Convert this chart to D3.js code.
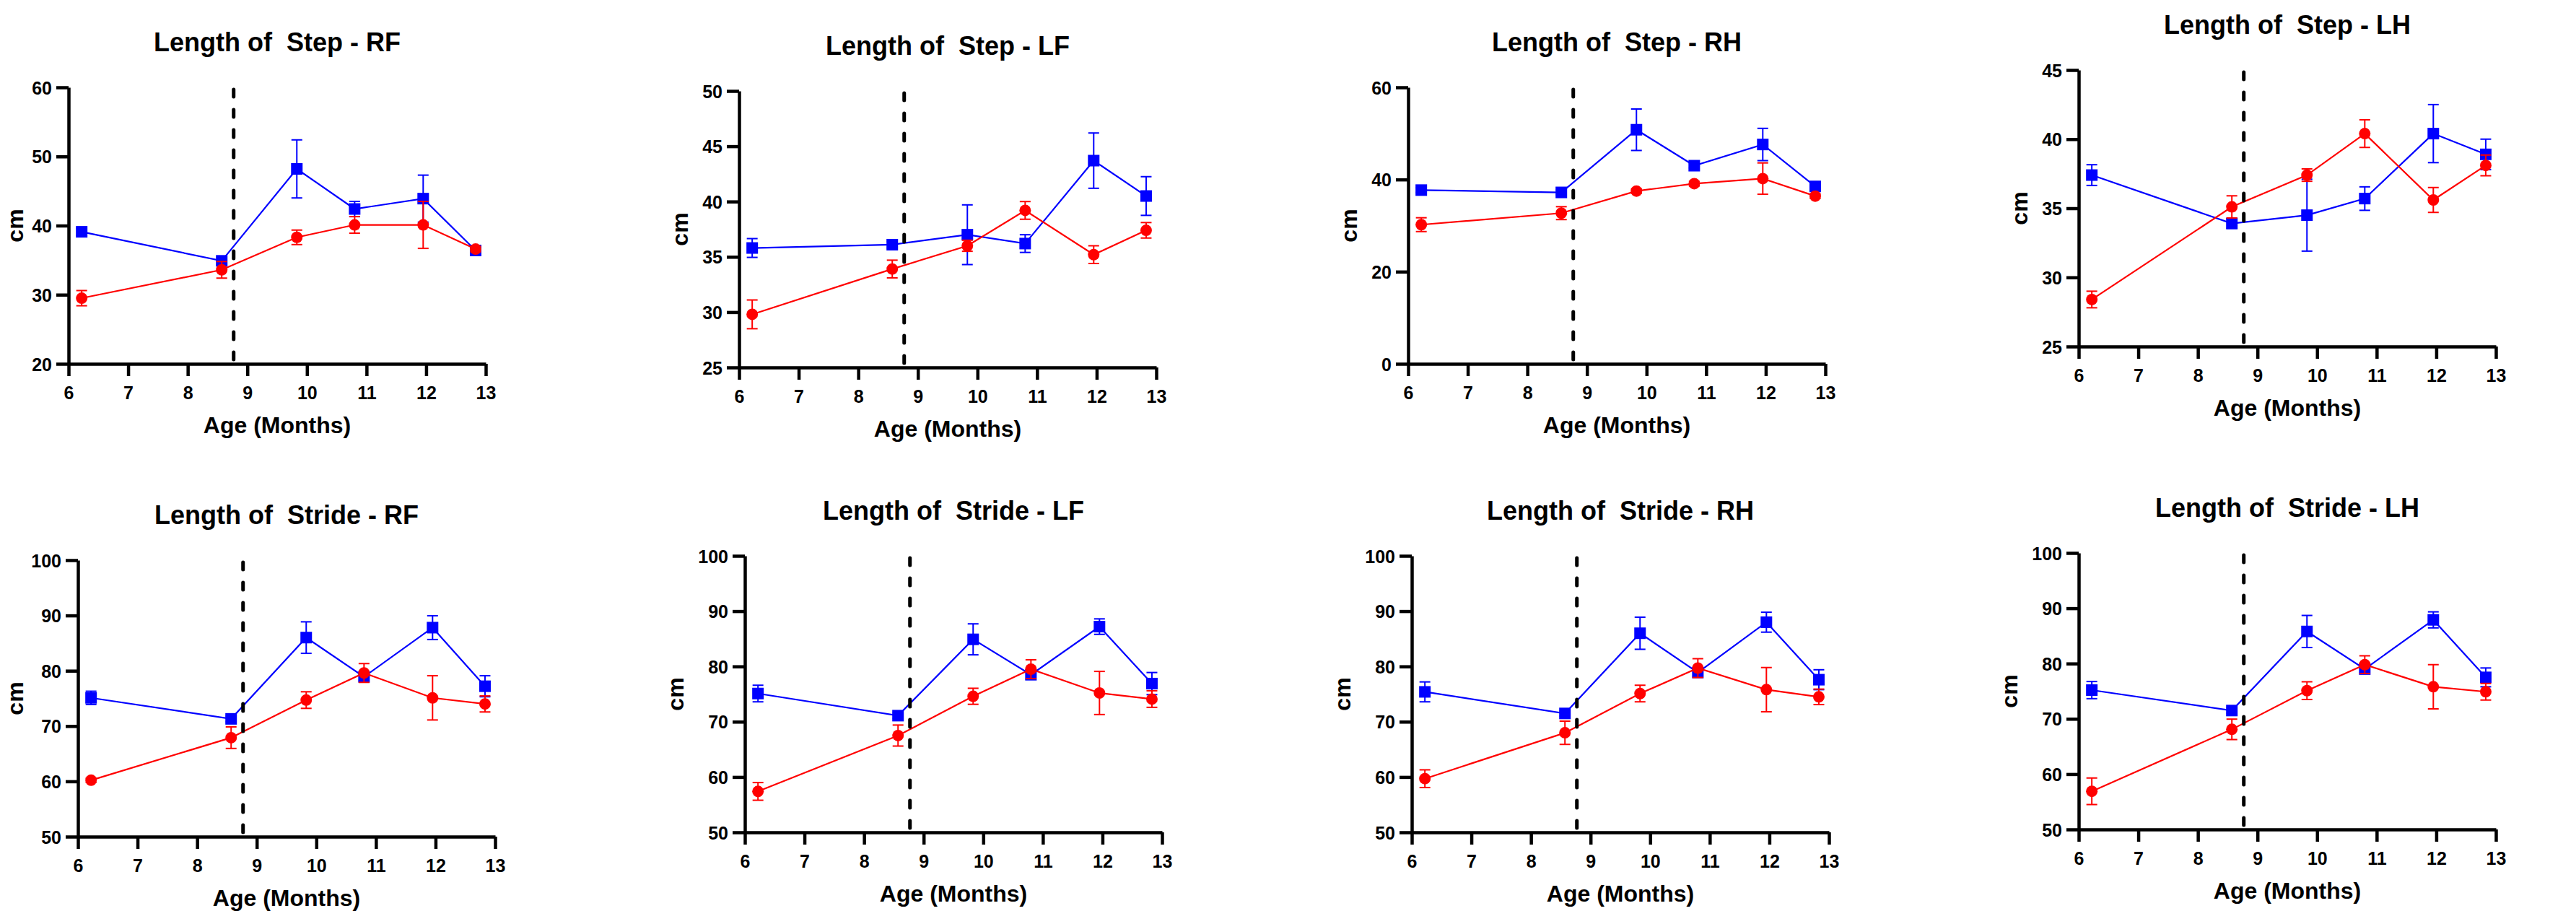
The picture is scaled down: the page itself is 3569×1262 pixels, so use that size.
<!DOCTYPE html>
<html>
<head>
<meta charset="utf-8">
<script src="https://cdn.jsdelivr.net/npm/d3@7"></script>
<style>
  body { margin: 0; background: #fff; }
  text { font-family: "Liberation Sans", Arial, sans-serif; font-weight: bold; fill: #000; }
</style>
</head>
<body>
<script>
// ages of the six recordings (months), same for every panel
var ages = [6.22, 8.57, 9.83, 10.8, 11.95, 12.83];
var cutAge = 8.77;
var xTicks = [6, 7, 8, 9, 10, 11, 12, 13];

var titles = ["Length of  Step - RF", "Length of  Step - LF", "Length of  Step - RH", "Length of  Step - LH",
              "Length of  Stride - RF", "Length of  Stride - LF", "Length of  Stride - RH", "Length of  Stride - LH"];

var yDomains = [[20, 60], [25, 50], [0, 60], [25, 45], [50, 100], [50, 100], [50, 100], [50, 100]];
var yTicks = [[20, 30, 40, 50, 60], [25, 30, 35, 40, 45, 50], [0, 20, 40, 60], [25, 30, 35, 40, 45],
              [50, 60, 70, 80, 90, 100], [50, 60, 70, 80, 90, 100], [50, 60, 70, 80, 90, 100], [50, 60, 70, 80, 90, 100]];

// blue squares (mean, error)
var blueMeans = [
  [39.1, 34.9, 48.2, 42.4, 43.9, 36.4],
  [35.8, 36.1, 37.0, 36.2, 43.7, 40.5],
  [37.7, 37.2, 50.8, 43.0, 47.6, 38.5],
  [37.4, 33.9, 34.5, 35.7, 40.4, 38.9],
  [75.1, 71.3, 86.0, 78.9, 87.8, 77.2],
  [75.1, 71.1, 84.9, 78.5, 87.2, 76.9],
  [75.4, 71.5, 86.0, 78.9, 88.0, 77.6],
  [75.2, 71.5, 85.8, 79.0, 87.9, 77.5]
];
var blueErr = [
  [0.5, 0.5, 4.2, 1.1, 3.4, 0.5],
  [0.85, 0.3, 2.7, 0.8, 2.5, 1.75],
  [0.5, 0.5, 4.5, 0.5, 3.5, 0.6],
  [0.75, 0.35, 2.6, 0.85, 2.1, 1.1],
  [1.2, 0.5, 2.85, 0.6, 2.15, 1.9],
  [1.5, 0.5, 2.8, 0.8, 1.4, 2.0],
  [1.8, 0.5, 2.9, 0.7, 1.8, 1.8],
  [1.55, 0.5, 2.9, 0.7, 1.45, 1.7]
];
// red circles (mean, error)
var redMeans = [
  [29.5, 33.6, 38.3, 40.1, 40.1, 36.6],
  [29.8, 33.9, 36.0, 39.2, 35.2, 37.4],
  [30.2, 32.7, 37.5, 39.1, 40.2, 36.4],
  [28.4, 35.1, 37.4, 40.4, 35.6, 38.1],
  [60.2, 67.9, 74.7, 79.6, 75.1, 74.0],
  [57.4, 67.5, 74.6, 79.5, 75.2, 74.1],
  [59.7, 68.0, 75.1, 79.7, 75.8, 74.5],
  [56.9, 68.1, 75.1, 79.8, 75.8, 74.9]
];
var redErr = [
  [1.1, 1.2, 1.05, 1.2, 3.4, 0.4],
  [1.3, 0.8, 0.5, 0.8, 0.8, 0.7],
  [1.5, 1.4, 0.5, 0.5, 3.4, 0.5],
  [0.6, 0.8, 0.45, 1.0, 0.9, 0.75],
  [0.4, 1.95, 1.5, 1.7, 4.0, 1.45],
  [1.6, 1.9, 1.45, 1.7, 3.9, 1.5],
  [1.6, 2.1, 1.5, 1.7, 4.0, 1.4],
  [2.4, 1.85, 1.6, 1.6, 4.0, 1.5]
];

// where each plot area sits on the page (left, top)
var panelPos = [[95, 121], [1024, 126], [1951, 121], [2880, 97],
                [108, 776], [1032, 770], [1956, 770], [2880, 766]];
var plotW = 578, plotH = 383;

var svg = d3.select("body").append("svg")
    .attr("width", 3569)
    .attr("height", 1262);

svg.append("rect").attr("width", 3569).attr("height", 1262).attr("fill", "#fff");

for (var i = 0; i < 8; i++) {
  drawPanel(i);
}

function drawPanel(i){
  var g = svg.append("g")
      .attr("transform", "translate(" + panelPos[i][0] + "," + panelPos[i][1] + ")");

  var x = d3.scaleLinear().domain([6, 13]).range([0, plotW]);
  var y = d3.scaleLinear().domain(yDomains[i]).range([plotH, 0]);

  // title
  g.append("text")
    .attr("x", plotW / 2)
    .attr("y", -50)
    .attr("text-anchor", "middle")
    .style("white-space", "pre")
    .style("font-size", "36px")
    .text(titles[i]);

  // axes
  var xAxis = g.append("g")
    .attr("transform", "translate(0," + plotH + ")")
    .call(d3.axisBottom(x).tickValues(xTicks).tickFormat(d3.format("d")).tickSize(17).tickSizeOuter(0));
  xAxis.selectAll("text").attr("y", 49).attr("dy", 0).style("font-size", "25px");

  var yAxis = g.append("g")
    .call(d3.axisLeft(y).tickValues(yTicks[i]).tickFormat(d3.format("d")).tickSize(17).tickSizeOuter(0));
  yAxis.selectAll("text").attr("x", -23).attr("dy", "0.36em").style("font-size", "25px");

  [xAxis, yAxis].forEach(function(a){
    a.select(".domain").attr("stroke", "#000").attr("stroke-width", 4.5);
    a.selectAll(".tick line").attr("stroke", "#000").attr("stroke-width", 4.5);
    a.selectAll("text").attr("fill", "#000").style("font-family", "'Liberation Sans', Arial, sans-serif").style("font-weight", "bold");
  });

  // y title sits left of the tick labels (kept inside the page edge)
  var labW = 0;
  yAxis.selectAll("text").each(function(){ labW = Math.max(labW, this.getComputedTextLength()); });
  var cmX = Math.max(-(labW + 43), 32 - panelPos[i][0]);
  g.append("text")
    .attr("transform", "translate(" + cmX + "," + (plotH / 2) + ") rotate(-90)")
    .attr("text-anchor", "middle")
    .style("font-size", "32px")
    .text("cm");

  g.append("text")
    .attr("x", plotW / 2)
    .attr("y", plotH + 96)
    .attr("text-anchor", "middle")
    .style("font-size", "32px")
    .text("Age (Months)");

  drawSeries(g, x, y, blueMeans[i], blueErr[i], "#0000ff", "square");
  drawSeries(g, x, y, redMeans[i], redErr[i], "#ff0000", "circle");

  // dashed cut line
  g.append("line")
    .attr("x1", x(cutAge)).attr("x2", x(cutAge))
    .attr("y1", 3).attr("y2", plotH)
    .attr("stroke", "#000")
    .attr("stroke-width", 5)
    .attr("stroke-linecap", "round")
    .attr("stroke-dasharray", "10 18");
}

function drawSeries(g, x, y, means, errs, col, shape){
  var pts = ages.map(function(a, k){ return {x: a, m: means[k], e: errs[k]}; });

  var line = d3.line()
    .x(function(d){ return x(d.x); })
    .y(function(d){ return y(d.m); });

  g.append("path")
    .datum(pts)
    .attr("d", line)
    .attr("fill", "none")
    .attr("stroke", col)
    .attr("stroke-width", 2.2);

  // error bars
  var eb = g.selectAll(null).data(pts).enter().append("g").attr("stroke", col).attr("stroke-width", 2);
  eb.append("line")
    .attr("x1", function(d){ return x(d.x); }).attr("x2", function(d){ return x(d.x); })
    .attr("y1", function(d){ return y(d.m - d.e); }).attr("y2", function(d){ return y(d.m + d.e); });
  eb.append("line")
    .attr("x1", function(d){ return x(d.x) - 7.5; }).attr("x2", function(d){ return x(d.x) + 7.5; })
    .attr("y1", function(d){ return y(d.m + d.e); }).attr("y2", function(d){ return y(d.m + d.e); });
  eb.append("line")
    .attr("x1", function(d){ return x(d.x) - 7.5; }).attr("x2", function(d){ return x(d.x) + 7.5; })
    .attr("y1", function(d){ return y(d.m - d.e); }).attr("y2", function(d){ return y(d.m - d.e); });

  // markers
  if (shape == "square") {
    g.selectAll(null).data(pts).enter().append("rect")
      .attr("x", function(d){ return x(d.x) - 8; })
      .attr("y", function(d){ return y(d.m) - 8; })
      .attr("width", 16).attr("height", 16)
      .attr("fill", col);
  } else {
    g.selectAll(null).data(pts).enter().append("circle")
      .attr("cx", function(d){ return x(d.x); })
      .attr("cy", function(d){ return y(d.m); })
      .attr("r", 8)
      .attr("fill", col);
  }
}
</script>
</body>
</html>
